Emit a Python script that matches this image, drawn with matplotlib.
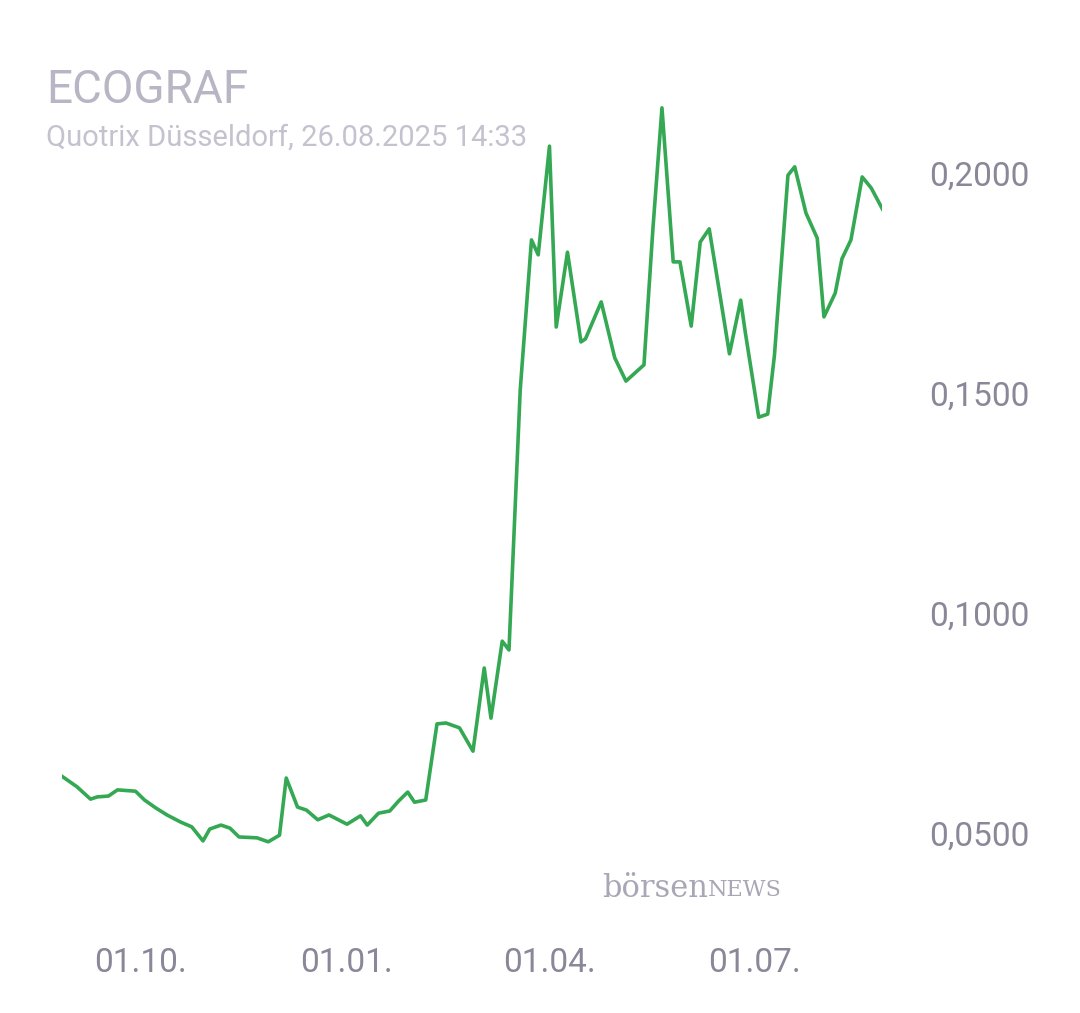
import numpy as np
import matplotlib
matplotlib.use("Agg")
import matplotlib.pyplot as plt
import matplotlib.dates as mdates
from datetime import date, timedelta

# Tage relativ zum 01.10.2024 und Kurse
tage = [-35, -28, -22, -19, -14, -10, -2, 2, 7, 12, 18, 23, 28, 31, 36, 40, 44, 52, 57, 62,
        65, 70, 74, 79, 84, 92, 98, 101, 106, 111, 115, 119, 122, 127, 132, 136, 142, 148,
        153, 156, 161, 164, 169, 174, 177, 182, 185, 190, 196, 198, 205, 211, 216, 224, 228,
        232, 237, 240, 245, 249, 253, 259, 262, 267, 269, 275, 279, 282, 288, 291, 296, 301,
        304, 309, 312, 316, 321, 325, 330]
kurse = [0.0630, 0.0605, 0.0577, 0.0582, 0.0584, 0.0598, 0.0595, 0.0575, 0.0557, 0.0541,
         0.0525, 0.0514, 0.0482, 0.0509, 0.0518, 0.0511, 0.0491, 0.0489, 0.0480, 0.0495,
         0.0625, 0.0559, 0.0552, 0.0530, 0.0541, 0.0520, 0.0539, 0.0518, 0.0545, 0.0550,
         0.0573, 0.0593, 0.0570, 0.0575, 0.0748, 0.0750, 0.0739, 0.0686, 0.0875, 0.0761,
         0.0936, 0.0916, 0.1507, 0.1848, 0.1814, 0.2061, 0.1650, 0.1820, 0.1616, 0.1623,
         0.1707, 0.1580, 0.1527, 0.1564, 0.1875, 0.2148, 0.1798, 0.1798, 0.1652, 0.1843,
         0.1873, 0.1684, 0.1589, 0.1711, 0.1639, 0.1445, 0.1452, 0.1586, 0.1995, 0.2014,
         0.1909, 0.1852, 0.1673, 0.1727, 0.1805, 0.1848, 0.1991, 0.1966, 0.1918]

y_ticks = [0.05, 0.10, 0.15, 0.20]
y_labels = ["0,0500", "0,1000", "0,1500", "0,2000"]
x_ticks = [date(2024, 10, 1), date(2025, 1, 1), date(2025, 4, 1), date(2025, 7, 1)]

basis = date(2024, 10, 1)
daten = [basis + timedelta(days=t) for t in tage]

plt.rcParams['font.family'] = ['Roboto', 'DejaVu Sans']
grau = "#8a8799"

fig = plt.figure(figsize=(10.8, 10.13), dpi=100)
ax = fig.add_axes([62 / 1080, 1 - 900 / 1013, 820 / 1080, 800 / 1013])
ax.plot(daten, kurse, color="#34a853", lw=2.6)

ax.set_xlim(mdates.date2num(basis) - 34.67, mdates.date2num(basis) + 329.8)
ax.set_ylim(0.2 - 727 / 4400, 0.2 + 73 / 4400)
for s in ax.spines.values():
    s.set_visible(False)
ax.tick_params(length=0)
ax.set_xticks(x_ticks)
ax.set_xticklabels([d.strftime("%d.%m.") for d in x_ticks], fontsize=24, color=grau)
ax.tick_params(axis="x", pad=34)
ax.yaxis.tick_right()
ax.set_yticks(y_ticks)
ax.set_yticklabels(y_labels, fontsize=24, color=grau)
ax.tick_params(axis="y", pad=34)

fig.text(46 / 1080, 1 - 90 / 1013, "ECOGRAF", fontsize=33, color="#b8b6c4", va="center")
fig.text(46 / 1080, 1 - 138 / 1013, "Quotrix Düsseldorf, 26.08.2025 14:33",
         fontsize=21, color="#c4c2cf", va="center")
fig.text(602 / 1080, 1 - 888 / 1013, "börsen", fontsize=22, color="#a9a7b5",
         family="DejaVu Serif", va="center")
fig.text(708 / 1080, 1 - 890 / 1013, "NEWS", fontsize=16, color="#a9a7b5",
         family="DejaVu Serif", va="center")

fig.savefig("out.png", dpi=100, facecolor="white")
